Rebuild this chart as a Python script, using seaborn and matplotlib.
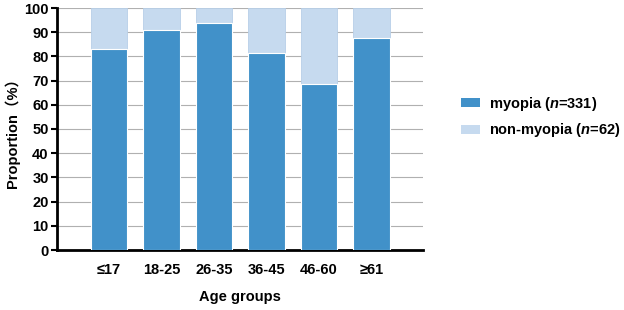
import pandas as pd
import matplotlib.pyplot as plt
import seaborn as sns
from matplotlib.patches import Patch

# data
age_groups = ['≤17', '18-25', '26-35', '36-45', '46-60', '≥61']
myopia_pct = [82.9, 90.9, 93.8, 81.3, 68.8, 87.5]
total_pct = [100, 100, 100, 100, 100, 100]
yticks = list(range(0, 101, 10))

dark_blue = '#4191c9'
light_blue = '#c6daef'

sns.set_style('white')
plt.rcParams['font.family'] = ['Liberation Sans', 'Noto Sans CJK SC', 'DejaVu Sans']
plt.rcParams['font.weight'] = 'bold'
plt.rcParams['text.color'] = 'black'
plt.rcParams['axes.labelcolor'] = 'black'
plt.rcParams['xtick.color'] = 'black'
plt.rcParams['ytick.color'] = 'black'
plt.rcParams['mathtext.fontset'] = 'custom'
plt.rcParams['mathtext.it'] = 'Liberation Sans:italic:bold'
plt.rcParams['mathtext.rm'] = 'Liberation Sans:bold'

df = pd.DataFrame({'group': age_groups, 'myopia': myopia_pct, 'total': total_pct})

fig = plt.figure(figsize=(6.24, 3.10), dpi=100)
ax = fig.add_axes([57 / 624, 1 - 250 / 310, (423 - 57) / 624, (250 - 8) / 310])

for y in yticks[1:]:
    ax.axhline(y, color='#b0b0b0', lw=0.8, zorder=0)

sns.barplot(data=df, x='group', y='total', color=light_blue, width=0.69,
            saturation=1, edgecolor='#b8cfe8', linewidth=0.6, ax=ax, zorder=2)
sns.barplot(data=df, x='group', y='myopia', color=dark_blue, width=0.69,
            saturation=1, edgecolor='white', linewidth=0.8, ax=ax, zorder=3)

ax.set_xlim(-0.99, 5.98)
ax.set_ylim(0, 100)
ax.set_yticks(yticks)
ax.tick_params(axis='y', length=4, width=1.5, direction='out', labelsize=10.5, pad=2, left=True)
ax.tick_params(axis='x', length=0, labelsize=10.5, pad=9)
for lbl in ax.get_xticklabels() + ax.get_yticklabels():
    lbl.set_fontweight('bold')

ax.set_xlabel('Age groups', fontsize=10.5, fontweight='bold', labelpad=10)
ax.set_ylabel('Proportion（%）', fontsize=10.5, fontweight='bold', labelpad=3)

sns.despine(ax=ax, top=True, right=True)
ax.spines['left'].set_linewidth(2)
ax.spines['bottom'].set_linewidth(2)
ax.spines['left'].set_color('black')
ax.spines['bottom'].set_color('black')

handles = [Patch(facecolor=dark_blue, edgecolor='none', label='myopia ($\\it{n}$=331)'),
           Patch(facecolor=light_blue, edgecolor='none', label='non-myopia ($\\it{n}$=62)')]
fig.legend(handles=handles, loc='center left', bbox_to_anchor=(448 / 624, 1 - 117 / 310),
           frameon=False, prop={'size': 10.5, 'weight': 'bold'},
           handlelength=1.3, handleheight=0.6, handletextpad=0.6, labelspacing=0.6)

fig.savefig('out.png', dpi=100)
plt.close()
